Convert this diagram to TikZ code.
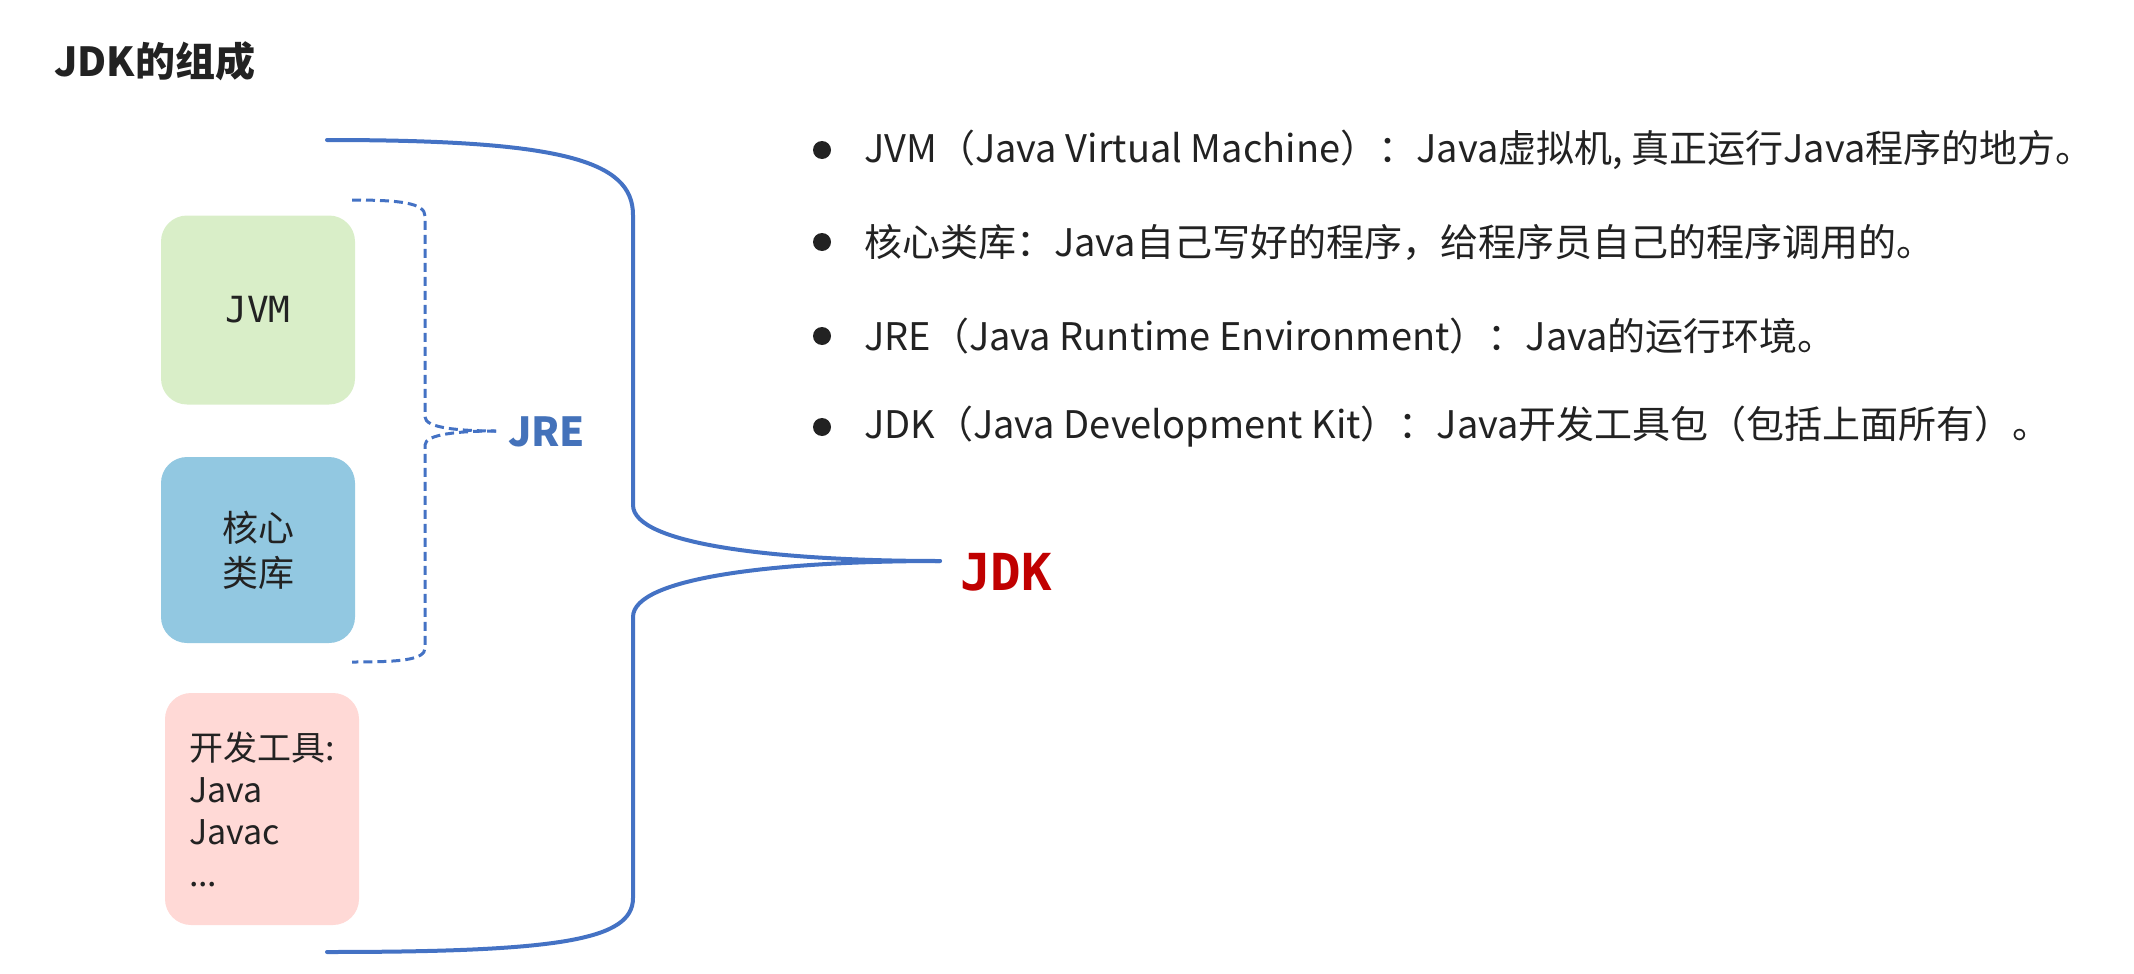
\documentclass[tikz,border=0pt]{standalone}
\usepackage{fontspec}
\setmainfont{Noto Sans CJK SC}
\newfontfamily\monofont{DejaVu Sans Mono}
\definecolor{lineblue}{HTML}{4472C4}
\definecolor{jreblue}{HTML}{4472BA}
\definecolor{jdkred}{HTML}{C00000}
\definecolor{jvmgreen}{HTML}{D9EEC8}
\definecolor{corebox}{HTML}{92C8E1}
\definecolor{toolpink}{HTML}{FFD9D6}
\definecolor{txt}{HTML}{222222}
\tikzset{
  box/.style={rounded corners=26pt, inner sep=0pt, text=txt},
  brace/.style={draw=lineblue, line width=4pt, line cap=round},
  dbrace/.style={draw=lineblue, line width=3pt, dash pattern=on 9pt off 5pt},
  bullettext/.style={anchor=west, text=txt, font=\fontsize{38}{44}\selectfont, inner sep=0pt},
  dot/.style={circle, fill=txt, minimum size=18pt, inner sep=0pt}
}
\begin{document}
\begin{tikzpicture}[x=1pt,y=-1pt]
\useasboundingbox (0,0) rectangle (2134,974);
% title
\node[anchor=west, inner sep=0pt, text=txt, font=\fontsize{40}{46}\selectfont\bfseries] (title) at (54,61) {JDK的组成};
% boxes
\node[box, fill=jvmgreen, minimum width=194pt, minimum height=189pt, font=\fontsize{36}{42}\selectfont\monofont] (jvm) at (258,310) {JVM};
\node[box, fill=corebox, minimum width=194pt, minimum height=186pt, align=center, font=\fontsize{36}{45}\selectfont] (core) at (258,550) {核心\\类库};
\node[box, fill=toolpink, minimum width=194pt, minimum height=232pt, text width=194pt, align=left, inner xsep=0pt, font=\fontsize{34}{42}\selectfont] (tools) at (262,809) {\hspace*{24pt}开发工具:\\\hspace*{24pt}Java\\\hspace*{24pt}Javac\\\hspace*{24pt}...};
% JRE dashed brace
\coordinate (jtop) at (352,200);
\coordinate (jtip) at (496,431);
\coordinate (jbot) at (352,662);
\draw[dbrace] (jtop) .. controls (400,200) and (425,203) .. (425,216) -- (425,417) .. controls (425,428) and (460,431) .. (jtip);
\draw[dbrace] (jtip) .. controls (460,431) and (425,434) .. (425,445) -- (425,648) .. controls (425,660) and (400,662) .. (jbot);
\node[anchor=west, inner sep=0pt, text=jreblue, font=\fontsize{40}{46}\selectfont\bfseries] (jre) at (508,432) {JRE};
% JDK brace
\coordinate (btop) at (327,140);
\coordinate (btip) at (940,561);
\coordinate (bbot) at (327,952);
\draw[brace] (btop) .. controls (560,140) and (633,160) .. (633,215) -- (633,505) .. controls (633,545) and (780,561) .. (btip);
\draw[brace] (btip) .. controls (780,561) and (633,577) .. (633,617) -- (633,898) .. controls (633,940) and (560,952) .. (bbot);
\node[anchor=west, inner sep=0pt, text=jdkred, font=\fontsize{51}{57}\selectfont\monofont\bfseries] (jdk) at (960,572) {JDK};
% bullet list
\node[dot] (d1) at (822,150) {};
\node[dot] (d2) at (822,242) {};
\node[dot] (d3) at (822,336) {};
\node[dot] (d4) at (822,427) {};
\node[bullettext] (l1) at (864,150) {JVM（Java Virtual Machine）：Java虚拟机, 真正运行Java程序的地方。};
\node[bullettext] (l2) at (864,242) {核心类库：Java自己写好的程序，给程序员自己的程序调用的。};
\node[bullettext] (l3) at (864,336) {JRE（Java Runtime Environment）：Java的运行环境。};
\node[bullettext] (l4) at (864,427) {JDK（Java Development Kit）：Java开发工具包（包括上面所有）。};
\end{tikzpicture}
\end{document}
